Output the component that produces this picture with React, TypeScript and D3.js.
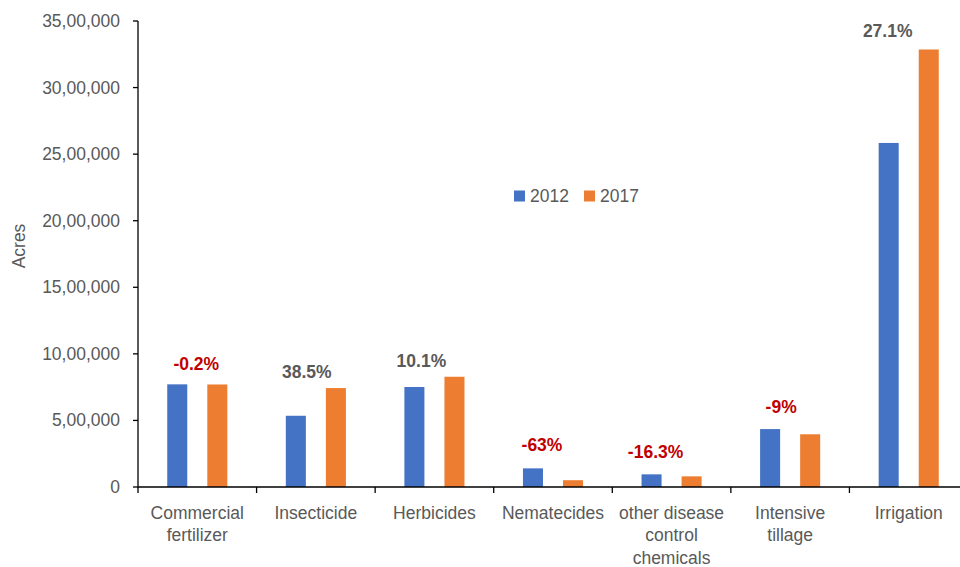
import React from "react";
import * as d3 from "d3";

const categories = [
  "Commercial fertilizer",
  "Insecticide",
  "Herbicides",
  "Nematecides",
  "other disease control chemicals",
  "Intensive tillage",
  "Irrigation",
];
const categoryLines = [
  ["Commercial", "fertilizer"],
  ["Insecticide"],
  ["Herbicides"],
  ["Nematecides"],
  ["other disease", "control", "chemicals"],
  ["Intensive", "tillage"],
  ["Irrigation"],
];
const seriesNames = ["2012", "2017"];
const values2012 = [771000, 535000, 751000, 140000, 95000, 435000, 2584000];
const values2017 = [770000, 743000, 828000, 51000, 80000, 396000, 3286000];
const changeLabels = ["-0.2%", "38.5%", "10.1%", "-63%", "-16.3%", "-9%", "27.1%"];
const yTicks = [0, 500000, 1000000, 1500000, 2000000, 2500000, 3000000, 3500000];

// layout nudges for the change labels (px, relative to band centre / taller bar)
const labelDx = [-1, -9, -13, -11, -16, -9, -21];
const labelDy = [-20, -16, -16, -23, -22, -22, -18];

const W = 960;
const H = 567;
const left = 138;
const right = 968;
const top = 21;
const bottom = 487;

const blue = "#4472C4";
const orange = "#ED7D31";
const gray = "#595959";
const red = "#C00000";
const font = "'Liberation Sans', Arial, sans-serif";

const fmt = (v: number) => {
  if (v === 0) return "0";
  const s = String(Math.round(v));
  const last3 = s.slice(-3);
  let rest = s.slice(0, -3);
  const parts: string[] = [];
  while (rest.length > 2) {
    parts.unshift(rest.slice(-2));
    rest = rest.slice(0, -2);
  }
  if (rest) parts.unshift(rest);
  return parts.join(",") + "," + last3;
};

export default function App() {
  const x = d3.scaleBand<string>().domain(categories).range([left, right]);
  const bw = x.bandwidth();
  const inner = d3
    .scaleBand<string>()
    .domain(seriesNames)
    .range([0, bw])
    .paddingInner(0.5)
    .paddingOuter(0.73);
  const y = d3.scaleLinear().domain([0, 3500000]).range([bottom, top]);
  const series = [values2012, values2017];
  const colors = [blue, orange];

  return (
    <svg
      width={W}
      height={H}
      style={{ position: "absolute", left: 0, top: 0, background: "#fff" }}
      fontFamily={font}
    >
      {/* bars */}
      {categories.map((c, i) =>
        series.map((vals, s) => (
          <rect
            key={c + s}
            x={(x(c) as number) + (inner(seriesNames[s]) as number)}
            y={y(vals[i])}
            width={inner.bandwidth()}
            height={bottom - y(vals[i])}
            fill={colors[s]}
          />
        ))
      )}
      {/* y axis */}
      <line x1={left} x2={left} y1={top} y2={bottom + 6} stroke="#000" strokeWidth={1.3} />
      {yTicks.map((t) => (
        <g key={t}>
          <line x1={left - 5} x2={left} y1={y(t)} y2={y(t)} stroke="#000" strokeWidth={1.3} />
          <text
            x={left - 18}
            y={y(t)}
            textAnchor="end"
            dominantBaseline="central"
            fontSize={17.5}
            fill={gray}
          >
            {fmt(t)}
          </text>
        </g>
      ))}
      <text
        transform={`translate(19,${(top + bottom) / 2 - 8}) rotate(-90)`}
        textAnchor="middle"
        dominantBaseline="central"
        fontSize={17.5}
        fill={gray}
      >
        Acres
      </text>
      {/* x axis */}
      <line x1={left} x2={W} y1={bottom} y2={bottom} stroke="#000" strokeWidth={1.3} />
      {categories.map((c) => (
        <line
          key={"t" + c}
          x1={(x(c) as number) + bw}
          x2={(x(c) as number) + bw}
          y1={bottom}
          y2={bottom + 6}
          stroke="#000"
          strokeWidth={1.3}
        />
      ))}
      {categories.map((c, i) => (
        <text
          key={"l" + c}
          x={(x(c) as number) + bw / 2}
          textAnchor="middle"
          fontSize={17.5}
          fill={gray}
        >
          {categoryLines[i].map((ln, k) => (
            <tspan key={k} x={(x(c) as number) + bw / 2} y={512.5 + k * 22.5} dominantBaseline="central">
              {ln}
            </tspan>
          ))}
        </text>
      ))}
      {/* change labels */}
      {categories.map((c, i) => {
        const topVal = Math.max(values2012[i], values2017[i]);
        const neg = changeLabels[i].startsWith("-");
        return (
          <text
            key={"c" + c}
            x={(x(c) as number) + bw / 2 + labelDx[i]}
            y={y(topVal) + labelDy[i]}
            textAnchor="middle"
            dominantBaseline="central"
            fontSize={17.5}
            fontWeight="bold"
            fill={neg ? red : gray}
          >
            {changeLabels[i]}
          </text>
        );
      })}
      {/* legend */}
      {seriesNames.map((s, k) => (
        <g key={"lg" + s} transform={`translate(${514 + k * 70},196)`}>
          <rect x={0} y={-5.5} width={11} height={11} fill={colors[k]} />
          <text x={16} y={0} dominantBaseline="central" fontSize={17.5} fill={gray}>
            {s}
          </text>
        </g>
      ))}
    </svg>
  );
}
